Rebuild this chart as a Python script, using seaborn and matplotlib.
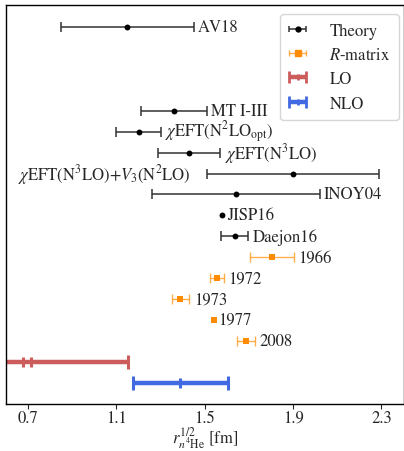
import numpy as np
import pandas as pd
import matplotlib
matplotlib.use("Agg")
import matplotlib.pyplot as plt
from matplotlib.path import Path
from matplotlib.colors import to_rgba
import seaborn as sns

# ---- data -------------------------------------------------------------
theory_labels = ["AV18", "MT I-III", r"$\chi$EFT(N$^2$LO$_\mathrm{opt}$)",
                 r"$\chi$EFT(N$^3$LO)", r"$\chi$EFT(N$^3$LO)+$V_3$(N$^2$LO)",
                 "INOY04", "JISP16", "Daejon16"]
theory_rows = [0, 4, 5, 6, 7, 8, 9, 10]
theory_vals = [1.15, 1.36, 1.20, 1.43, 1.90, 1.64, 1.58, 1.635]
theory_errs = [0.30, 0.15, 0.10, 0.14, 0.39, 0.38, 0.0, 0.06]

rmatrix_labels = ["1966", "1972", "1973", "1977", "2008"]
rmatrix_rows = [11, 12, 13, 14, 15]
rmatrix_vals = [1.805, 1.555, 1.39, 1.54, 1.686]
rmatrix_errs = [0.10, 0.03, 0.04, 0.0, 0.04]

lo_row, lo_val, lo_err = 16, 0.697, 0.454
nlo_row, nlo_val, nlo_err = 17, 1.39, 0.215

x_ticks = [0.7, 1.1, 1.5, 1.9, 2.3]

theory = pd.DataFrame({"label": theory_labels, "row": theory_rows,
                       "val": theory_vals, "err": theory_errs})
rmatrix = pd.DataFrame({"label": rmatrix_labels, "row": rmatrix_rows,
                        "val": rmatrix_vals, "err": rmatrix_errs})

# ---- style ------------------------------------------------------------
sns.set_theme(style="ticks")
plt.rcParams["font.family"] = ["STIXGeneral", "DejaVu Serif"]
plt.rcParams["mathtext.fontset"] = "stix"
plt.rcParams["font.size"] = 12

black = "black"
orange = "#ff8c00"
orange_light = to_rgba(orange, 0.7)
red = "#cd5c5c"
blue = "#4169e1"

fig = plt.figure(figsize=(4.04, 4.52), dpi=100)
ax = fig.add_axes([6 / 404, 1 - 404.8 / 452, 397.5 / 404, 398.8 / 452])

# theory points (error bars only where an uncertainty is given)
t_err = theory[theory["err"] > 0]
ax.errorbar(t_err["val"], t_err["row"], xerr=t_err["err"],
            fmt="none", ecolor="0.2", elinewidth=1.1,
            capsize=3.5, capthick=1.1)
sns.scatterplot(data=theory, x="val", y="row", ax=ax, color=black,
                marker="o", s=18, edgecolor=black, linewidth=0, zorder=3,
                legend=False)

# R-matrix points
r_err = rmatrix[rmatrix["err"] > 0]
ax.errorbar(r_err["val"], r_err["row"], xerr=r_err["err"],
            fmt="none", ecolor=orange_light, elinewidth=1.0,
            capsize=3.5, capthick=1.0)
sns.scatterplot(data=rmatrix, x="val", y="row", ax=ax, color=orange,
                marker="s", s=24, edgecolor=orange, linewidth=0, zorder=3,
                legend=False)

# LO / NLO bands
double_bar = Path([(-0.87, -1), (-0.87, 1), (0.87, -1), (0.87, 1)],
                  [Path.MOVETO, Path.LINETO, Path.MOVETO, Path.LINETO])
ax.errorbar([lo_val], [lo_row], xerr=[lo_err], fmt="none",
            ecolor=red, elinewidth=3.2, capsize=5, capthick=2.2)
ax.plot([lo_val], [lo_row], marker=double_bar, ms=7.2, mew=2.2,
        color=red, ls="none", zorder=3)
ax.errorbar([nlo_val], [nlo_row], xerr=[nlo_err], fmt="none",
            ecolor=blue, elinewidth=3.2, capsize=5, capthick=2.2)
ax.plot([nlo_val], [nlo_row], marker="|", ms=7.2, mew=2.2,
        color=blue, ls="none", zorder=3)

# text labels next to each entry
for df in (theory, rmatrix):
    for lab, r, v, e in zip(df["label"], df["row"], df["val"], df["err"]):
        if "V_3" in lab:
            ax.annotate(lab, (v - e, r), xytext=(-12, 0),
                        textcoords="offset points", ha="right", va="center")
        else:
            ax.annotate(lab, (v + e, r), xytext=(3.2 if e > 0 else 3.5, 0),
                        textcoords="offset points", ha="left", va="center")

# legend entries (empty errorbar artists that carry the styles)
nan = [np.nan]
h_theory = ax.errorbar(nan, nan, xerr=nan, fmt="o", color=black, ms=3.5,
                       ecolor="0.2", elinewidth=1.1, capsize=2.5, capthick=1.1)
h_rm = ax.errorbar(nan, nan, xerr=nan, fmt="s", color=orange, ms=4,
                   ecolor=orange_light, elinewidth=1.0, capsize=2.5,
                   capthick=1.0)
h_lo = ax.errorbar(nan, nan, xerr=nan, fmt="|", color=red, ms=5, mew=2,
                   ecolor=red, elinewidth=3.2, capsize=4.5, capthick=2.2)
h_nlo = ax.errorbar(nan, nan, xerr=nan, fmt="|", color=blue, ms=5, mew=2,
                    ecolor=blue, elinewidth=3.2, capsize=4.5, capthick=2.2)

leg = ax.legend([h_theory, h_rm, h_lo, h_nlo],
                ["Theory", r"$R$-matrix", "LO", "NLO"],
                loc="upper right", fontsize=12, frameon=True, fancybox=True,
                edgecolor="0.8", handlelength=1.1, borderpad=0.5,
                labelspacing=0.5, handletextpad=1.35, borderaxespad=0.0,
                bbox_to_anchor=(0.988, 0.977))

ax.set_xlim(0.6, 2.4)
ax.set_ylim(18.0, -1.05)
ax.set_xticks(x_ticks)
ax.set_xticklabels([f"{t:.1f}" for t in x_ticks])
ax.set_yticks([])
ax.set_ylabel("")
ax.set_xlabel(r"$r_{n^4\mathrm{He}}^{1/2}$ [fm]", labelpad=-0.5)
ax.tick_params(axis="x", direction="out", length=3.5, width=0.8,
               labelsize=12, pad=1.0)
for sp in ax.spines.values():
    sp.set_visible(True)
    sp.set_linewidth(1.0)
    sp.set_color("black")

fig.savefig("out.png", dpi=100)
